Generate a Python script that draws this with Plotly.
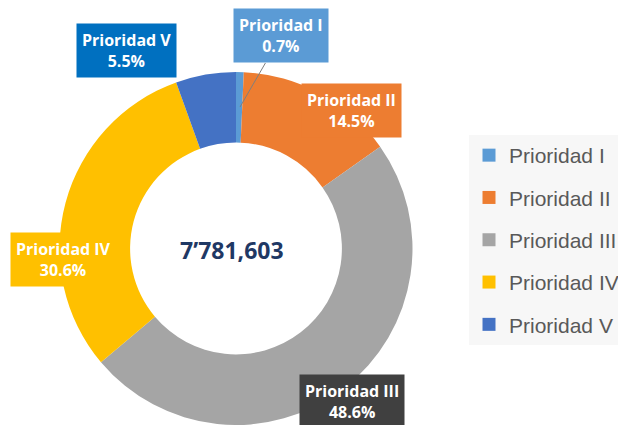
import plotly.graph_objects as go

categorias = ["Prioridad I", "Prioridad II", "Prioridad III", "Prioridad IV", "Prioridad V"]
porcentajes = [0.7, 14.5, 48.6, 30.6, 5.5]
total_texto = "7’781,603"

colores = ["#5B9BD5", "#ED7D31", "#A5A5A5", "#FFC000", "#4472C4"]
colores_caja = ["#5B9BD5", "#ED7D31", "#404040", "#FFC000", "#0070C0"]

# la página tiene un margen de 8 px alrededor de la figura
OFF = 8
W, H = 626 - OFF, 425 - OFF


def px_x(x):
    return (x - OFF) / W


def px_y(y):
    return (H - (y - OFF)) / H


fig = go.Figure()

fig.add_trace(
    go.Pie(
        labels=categorias,
        values=porcentajes,
        hole=0.6,
        sort=False,
        direction="clockwise",
        rotation=0,
        marker=dict(colors=colores, line=dict(width=0)),
        textinfo="none",
        showlegend=False,
        domain=dict(x=[px_x(59), px_x(413)], y=[0, px_y(72)]),
    )
)

# entradas de leyenda (cuadrados)
for i, cat in enumerate(categorias):
    fig.add_trace(
        go.Scatter(
            x=[None], y=[None],
            mode="markers",
            name=cat,
            legendgroup=cat,
            marker=dict(symbol="square", size=13, color=colores[i]),
        )
    )

# posiciones de las cajas de etiqueta (px de la página)
pos_cajas = [(281, 36), (351, 110), (352, 401), (63, 259), (126, 50)]
punta_flecha = (240, 107)

for i, cat in enumerate(categorias):
    px, py = pos_cajas[i]
    texto = f"<b>{cat}<br>{porcentajes[i]}%</b>"
    ann = dict(
        text=texto,
        xref="paper", yref="paper",
        xanchor="center", yanchor="middle",
        font=dict(family="Open Sans", size=16, color="white"),
        bgcolor=colores_caja[i],
        borderpad=5,
        align="center",
    )
    if i == 0:
        hx, hy = punta_flecha
        ann.update(x=px_x(hx), y=px_y(hy), showarrow=True, arrowhead=0,
                   arrowwidth=1, arrowcolor="#7F7F7F", ax=px - hx, ay=py - hy)
    else:
        ann.update(x=px_x(px), y=px_y(py), showarrow=False)
    fig.add_annotation(**ann)

fig.add_annotation(
    text=f"<b>{total_texto}</b>",
    x=px_x(232), y=px_y(250), xref="paper", yref="paper",
    xanchor="center", yanchor="middle",
    showarrow=False,
    font=dict(family="Open Sans", size=23, color="#1F3864"),
)

fig.update_layout(
    width=W, height=H,
    margin=dict(l=0, r=0, t=0, b=0),
    paper_bgcolor="white",
    plot_bgcolor="white",
    xaxis=dict(visible=False),
    yaxis=dict(visible=False),
    legend=dict(
        x=px_x(469), y=px_y(135),
        xanchor="left", yanchor="top",
        bgcolor="#F7F7F7",
        font=dict(family="Liberation Sans", size=21, color="#595959"),
        tracegroupgap=12,
        itemwidth=30,
    ),
)

fig.write_html("out.html")
